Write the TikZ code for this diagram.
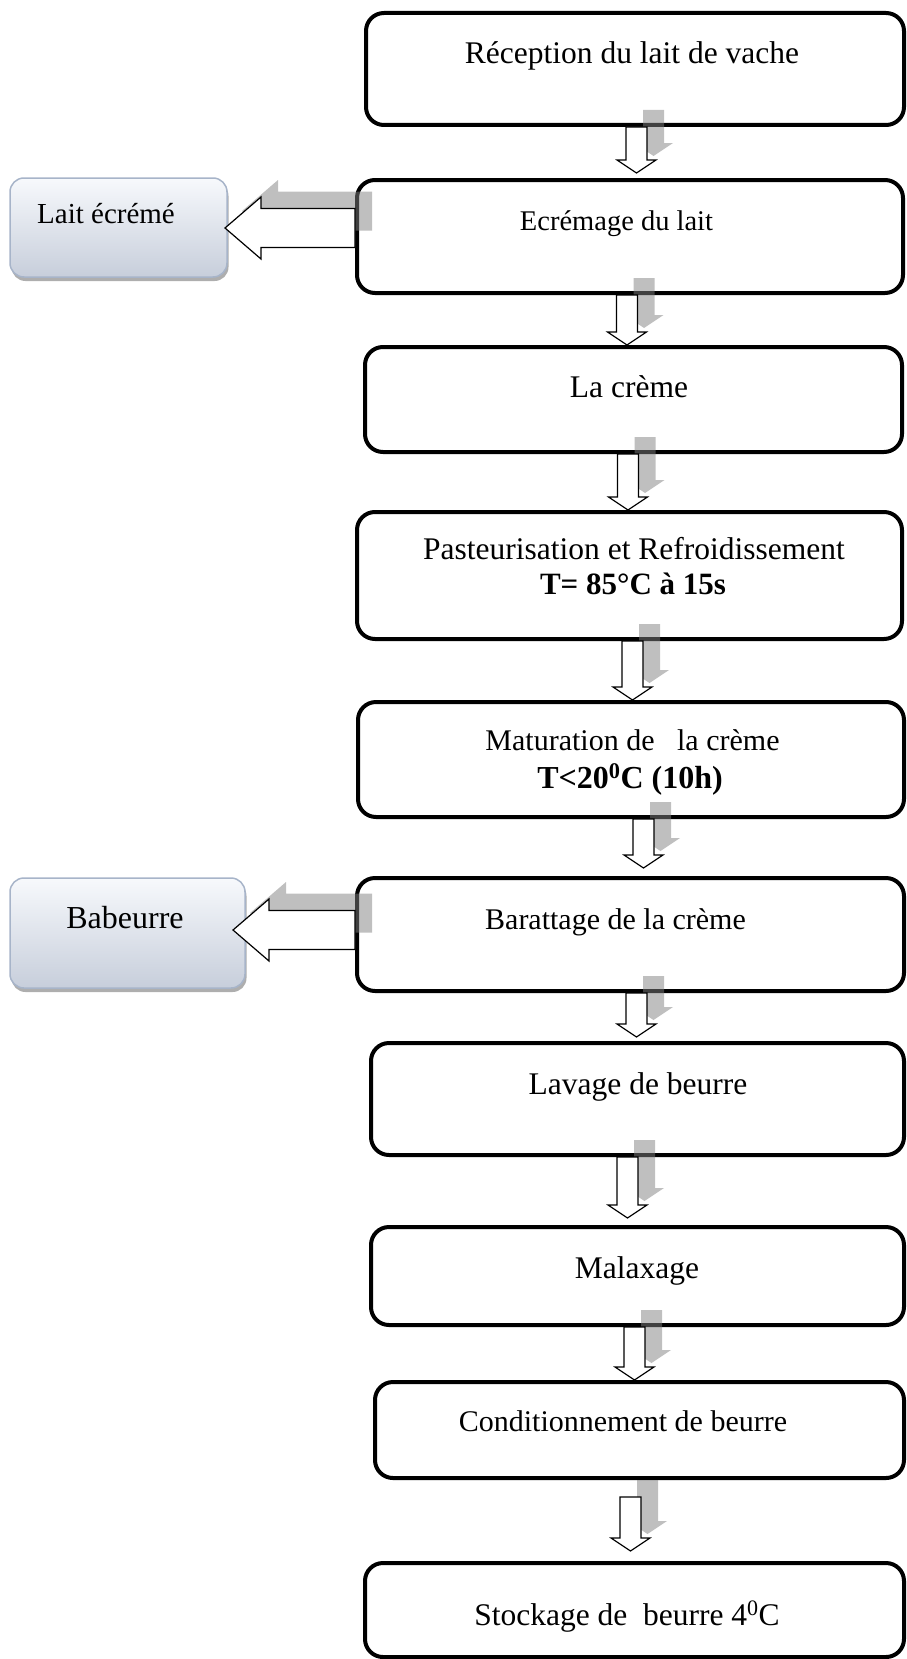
\documentclass[tikz,border=0pt]{standalone}
\usepackage{fontspec}
\setmainfont{Liberation Serif}
\usetikzlibrary{calc,shadows}
\definecolor{sbBorder}{HTML}{A7B4C9}
\definecolor{sbTop}{HTML}{F7F9FC}
\definecolor{sbBot}{HTML}{C7CEDB}
% block arrow pointing down: style, start (shaft top centre), end (tip), dx, dy
\newcommand\dnarrow[5]{%
  \path[#1] ($(#2)+(#4-10.5,#5)$) -- ($(#3)+(#4-10.5,#5-13)$) -- ($(#3)+(#4-19.5,#5-13)$)
   -- ($(#3)+(#4,#5)$) -- ($(#3)+(#4+19.5,#5-13)$) -- ($(#3)+(#4+10.5,#5-13)$)
   -- ($(#2)+(#4+10.5,#5)$) -- cycle;}
% block arrow pointing left: style, start (shaft right end centre), end (tip), dx, dy
\newcommand\lfarrow[5]{%
  \path[#1] ($(#2)+(#4,#5-19.5)$) -- ($(#3)+(#4+36,#5-19.5)$) -- ($(#3)+(#4+36,#5-31)$)
   -- ($(#3)+(#4,#5)$) -- ($(#3)+(#4+36,#5+31)$) -- ($(#3)+(#4+36,#5+19.5)$)
   -- ($(#2)+(#4,#5+19.5)$) -- cycle;}
\newcommand\fs[1]{\fontsize{#1}{#1}\selectfont}
\begin{document}
\begin{tikzpicture}[x=1pt,y=-1pt,
  mainbox/.style={draw=black, line width=4pt, rounded corners=18pt, fill=white,
    anchor=north west, inner sep=0pt, outer sep=0pt},
  sidebox/.style={draw=sbBorder, line width=1.5pt, rounded corners=14pt,
    top color=sbTop, bottom color=sbBot, anchor=north west, inner sep=0pt, outer sep=0pt,
    drop shadow={shadow xshift=1.5pt, shadow yshift=-4pt, fill=black!45, opacity=.7}},
  maintxt/.style={anchor=base, inner sep=0pt, font=\fs{31.5}},
  boldtxt/.style={anchor=base, inner sep=0pt, font=\fs{31}\bfseries},
  sidetxt/.style={anchor=base, inner sep=0pt, font=\fs{29}},
  arrshadow/.style={fill=gray, fill opacity=.5},
  arrwhite/.style={draw=black, line width=1.2pt, fill=white, line join=miter}
]
\useasboundingbox (0,0) rectangle (907,1659);

% main boxes
\node[mainbox, minimum width=538pt, minimum height=112pt] (b1) at (366,13) {};
\node[mainbox, minimum width=546pt, minimum height=113pt] (b2) at (357,180) {};
\node[mainbox, minimum width=537pt, minimum height=105pt] (b3) at (365,347) {};
\node[mainbox, minimum width=545pt, minimum height=127pt] (b4) at (357,512) {};
\node[mainbox, minimum width=546pt, minimum height=115pt] (b5) at (358,702) {};
\node[mainbox, minimum width=547pt, minimum height=113pt] (b6) at (357,878) {};
\node[mainbox, minimum width=533pt, minimum height=112pt] (b7) at (371,1043) {};
\node[mainbox, minimum width=533pt, minimum height=98pt] (b8) at (371,1227) {};
\node[mainbox, minimum width=529pt, minimum height=96pt] (b9) at (375,1382) {};
\node[mainbox, minimum width=539pt, minimum height=94pt] (b10) at (365,1563) {};

% side boxes
\node[sidebox, minimum width=217pt, minimum height=99pt] (s1) at (10,178) {};
\node[sidebox, minimum width=235pt, minimum height=110pt] (s2) at (10,878) {};

% arrow end points
\coordinate (a1s) at ($(636.5,0 |- b1.south)+(0,2)$);
\coordinate (a1e) at ($(636.5,0 |- b2.north)+(0,-7)$);
\coordinate (a2s) at ($(627,0 |- b2.south)+(0,2)$);
\coordinate (a2e) at ($(627,0 |- b3.north)+(0,-2)$);
\coordinate (a3s) at ($(628,0 |- b3.south)+(0,2)$);
\coordinate (a3e) at ($(628,0 |- b4.north)+(0,-2)$);
\coordinate (a4s) at ($(632.5,0 |- b4.south)+(0,2)$);
\coordinate (a4e) at ($(632.5,0 |- b5.north)+(0,-2)$);
\coordinate (a5s) at ($(643.5,0 |- b5.south)+(0,2)$);
\coordinate (a5e) at ($(643.5,0 |- b6.north)+(0,-10)$);
\coordinate (a6s) at ($(636.5,0 |- b6.south)+(0,2)$);
\coordinate (a6e) at ($(636.5,0 |- b7.north)+(0,-6)$);
\coordinate (a7s) at ($(627.5,0 |- b7.south)+(0,2)$);
\coordinate (a7e) at ($(627.5,0 |- b8.north)+(0,-9)$);
\coordinate (a8s) at ($(634.5,0 |- b8.south)+(0,2)$);
\coordinate (a8e) at ($(634.5,0 |- b9.north)+(0,-2)$);
\coordinate (a9s) at ($(630.5,0 |- b9.south)+(0,19)$);
\coordinate (a9e) at ($(630.5,0 |- b10.north)+(0,-12)$);
\coordinate (l1s) at ($(b2.west |- 0,228)+(-2,0)$);
\coordinate (l1e) at ($(s1.east |- 0,228)+(-2,0)$);
\coordinate (l2s) at ($(b6.west |- 0,930)+(-2,0)$);
\coordinate (l2e) at ($(s2.east |- 0,930)+(-12,0)$);

% shadows of the block arrows
\foreach \i in {1,...,9}{\dnarrow{arrshadow}{a\i s}{a\i e}{17}{-17}}
\lfarrow{arrshadow}{l1s}{l1e}{17}{-17}
\lfarrow{arrshadow}{l2s}{l2e}{17}{-17}
% white block arrows
\foreach \i in {1,...,9}{\dnarrow{arrwhite}{a\i s}{a\i e}{0}{0}}
\lfarrow{arrwhite}{l1s}{l1e}{0}{0}
\lfarrow{arrwhite}{l2s}{l2e}{0}{0}

% texts
\node[maintxt] (t1) at (632,64) {Réception du lait de vache};
\node[maintxt, font=\fs{28.5}] (t2) at (616.5,230) {Ecrémage du lait};
\node[maintxt] (t3) at (629,397) {La crème};
\node[maintxt] (t4a) at (634,559) {Pasteurisation et Refroidissement};
\node[boldtxt] (t4b) at (633,594) {T= 85°C à 15s};
\node[maintxt, font=\fs{30}] (t5a) at (632.5,750) {Maturation de~~~la crème};
\node[boldtxt, font=\fs{32}\bfseries] (t5b) at (630,788) {T<20\textsuperscript{0}C (10h)};
\node[maintxt, font=\fs{30}] (t6) at (615.5,929) {Barattage de la crème};
\node[maintxt] (t7) at (638,1094) {Lavage de beurre};
\node[maintxt] (t8) at (637,1278) {Malaxage};
\node[maintxt, font=\fs{30}] (t9) at (623,1431) {Conditionnement de beurre};
\node[maintxt] (t10) at (627,1625) {Stockage de~~beurre 4\textsuperscript{0}C};
\node[sidetxt] (u1) at (106,223) {Lait écrémé};
\node[sidetxt, font=\fs{32}] (u2) at (125,928) {Babeurre};
\end{tikzpicture}
\end{document}
